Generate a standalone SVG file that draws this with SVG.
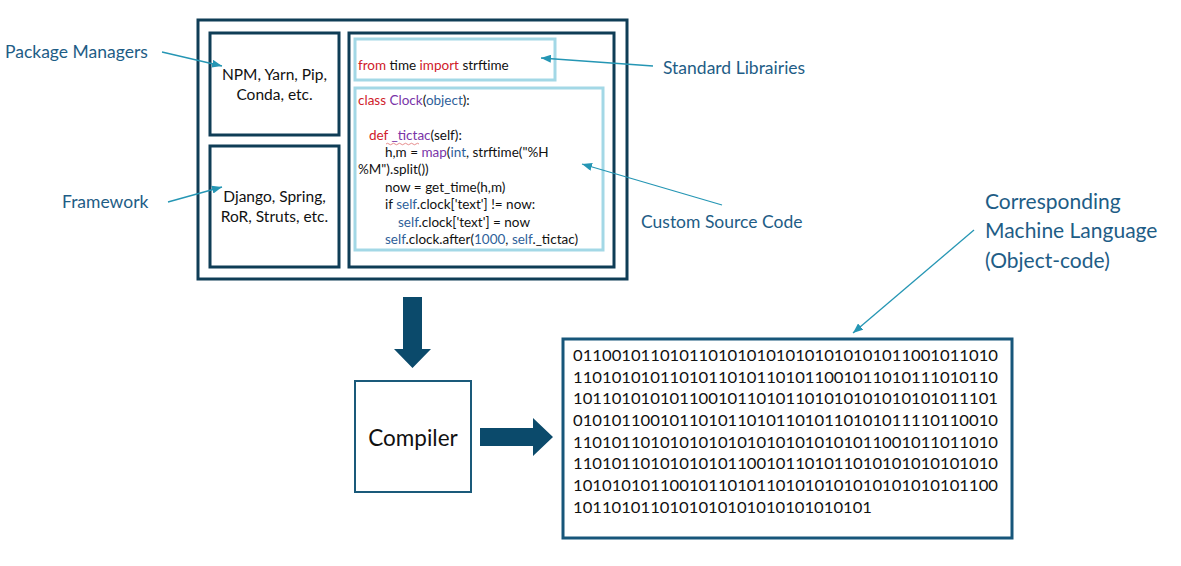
<svg xmlns="http://www.w3.org/2000/svg" width="1181" height="566" viewBox="0 0 1181 566">
<style>
.dark{fill:none;stroke:#0f3d56;stroke-width:3}
.light{fill:none;stroke:#a3d8e6;stroke-width:3}
.lbl{font-family:Lato,"Liberation Sans",sans-serif;fill:#1e5d86}
.t{font-family:Lato,"Liberation Sans",sans-serif;fill:#111}
.code{font-family:Lato,"Liberation Sans",sans-serif;font-size:13.5px;fill:#111}
.kw{fill:#d0202a}
.pu{fill:#7a35a8}
.bl{fill:#2f5f9a}
.lead{fill:none;stroke:#2596b4;stroke-width:1.3}
.big{fill:#0b4a6b}
.bin{font-family:Lato,"Liberation Sans",sans-serif;font-size:16px;fill:#111}
</style>
<defs>
<marker id="ah" viewBox="0 0 10 8" refX="10" refY="4" markerWidth="10" markerHeight="8" markerUnits="userSpaceOnUse" orient="auto">
<path d="M0,0 L10,4 L0,8 Z" fill="#2596b4"/>
</marker>
</defs>
<rect width="1181" height="566" fill="#fff"/>

<g id="source-container">
<rect class="dark" x="198" y="20" width="429" height="259"/>
</g>
<g id="package-managers-box">
<rect class="dark" x="210" y="33" width="129" height="102"/>
<text class="t" font-size="15.5" text-anchor="middle" x="274.5" y="80">NPM, Yarn, Pip,</text>
<text class="t" font-size="15.5" text-anchor="middle" x="274.5" y="100">Conda, etc.</text>
</g>
<g id="framework-box">
<rect class="dark" x="210" y="146" width="129" height="121"/>
<text class="t" font-size="15.5" text-anchor="middle" x="274.5" y="202">Django, Spring,</text>
<text class="t" font-size="15.5" text-anchor="middle" x="274.5" y="222">RoR, Struts, etc.</text>
</g>
<g id="code-box">
<rect class="dark" x="349" y="33" width="265" height="234"/>
</g>
<g id="stdlib-box">
<rect class="light" x="355" y="39" width="200" height="41"/>
<text class="code" x="358" y="70"><tspan class="kw">from</tspan> time <tspan class="kw">import</tspan> strftime</text>
</g>
<g id="custom-code-box">
<rect class="light" x="355" y="88" width="248" height="162"/>
<text class="code" x="358" y="105"><tspan class="kw">class</tspan> <tspan class="pu">Clock</tspan>(<tspan class="bl">object</tspan>):</text>
<text class="code" x="369" y="140"><tspan class="kw">def</tspan> <tspan class="pu">_tictac</tspan>(self):</text>
<path d="M386,144 q1.5,-1.5 3,0 t3,0 t3,0 t3,0 t3,0 t3,0 t3,0 t3,0 t3,0 t3,0 t3,0" fill="none" stroke="#e07070" stroke-width="0.8"/>
<text class="code" x="385" y="157">h,m = <tspan class="pu">map</tspan>(<tspan class="bl">int</tspan>, strftime("%H</text>
<text class="code" x="358" y="174">%M").split())</text>
<text class="code" x="385" y="192">now = get_time(h,m)</text>
<text class="code" x="385" y="209">if <tspan class="bl">self</tspan>.clock['text'] != now:</text>
<text class="code" x="398" y="227"><tspan class="bl">self</tspan>.clock['text'] = now</text>
<text class="code" x="385" y="244"><tspan class="bl">self</tspan>.clock.after(<tspan class="bl">1000</tspan>, <tspan class="bl">self</tspan>._tictac)</text>
</g>

<g id="label-package-managers"><text class="lbl" font-size="17.5" x="5" y="58">Package Managers</text></g>
<g id="label-framework"><text class="lbl" font-size="17.5" x="62" y="208">Framework</text></g>
<g id="label-standard-libraries"><text class="lbl" font-size="17.5" x="663" y="74">Standard Librairies</text></g>
<g id="label-custom-source"><text class="lbl" font-size="17.5" x="641" y="228">Custom Source Code</text></g>
<g id="label-machine-language">
<text class="lbl" font-size="21" x="985" y="209">Corresponding</text>
<text class="lbl" font-size="21" x="985" y="238">Machine Language</text>
<text class="lbl" font-size="21" x="985" y="268">(Object-code)</text>
</g>

<g id="compiler">
<rect x="355" y="381" width="116" height="111" fill="none" stroke="#1a5a7a" stroke-width="2"/>
<text class="t" font-size="22.5" text-anchor="middle" x="413" y="446">Compiler</text>
</g>

<g id="object-code">
<rect x="563" y="339" width="449" height="199" fill="none" stroke="#17567a" stroke-width="3"/>
<text class="bin" x="573" y="361" textLength="425" lengthAdjust="spacingAndGlyphs">01100101101011010101010101010101011001011010</text>
<text class="bin" x="573" y="383" textLength="425" lengthAdjust="spacingAndGlyphs">11010101011010110101101011001011010111010110</text>
<text class="bin" x="573" y="404" textLength="425" lengthAdjust="spacingAndGlyphs">10110101010110010110101101010101010101011101</text>
<text class="bin" x="573" y="426" textLength="425" lengthAdjust="spacingAndGlyphs">01010110010110101101011010110101011110110010</text>
<text class="bin" x="573" y="448" textLength="425" lengthAdjust="spacingAndGlyphs">11010110101010101010101010101011001011011010</text>
<text class="bin" x="573" y="469" textLength="425" lengthAdjust="spacingAndGlyphs">11010110101010101100101101011010101010101010</text>
<text class="bin" x="573" y="491" textLength="425" lengthAdjust="spacingAndGlyphs">10101010110010110101101010101010101010101100</text>
<text class="bin" x="573" y="513" textLength="299" lengthAdjust="spacingAndGlyphs">1011010110101010101010101010101</text>
</g>

<g id="connectors">
<line class="lead" x1="162" y1="52" x2="222" y2="66" marker-end="url(#ah)"/>
<line class="lead" x1="168" y1="202" x2="222" y2="187" marker-end="url(#ah)"/>
<line class="lead" x1="653" y1="66" x2="541" y2="58" marker-end="url(#ah)"/>
<line class="lead" x1="722" y1="205" x2="582" y2="164" marker-end="url(#ah)"/>
<line class="lead" x1="974" y1="230" x2="853" y2="333" marker-end="url(#ah)"/>
<path class="big" d="M403,297 H422 V349 H431 L412.5,368 L394,349 H403 Z"/>
<path class="big" d="M480,428 H533 V418 L553,437 L533,456 V446 H480 Z"/>
</g>
</svg>
